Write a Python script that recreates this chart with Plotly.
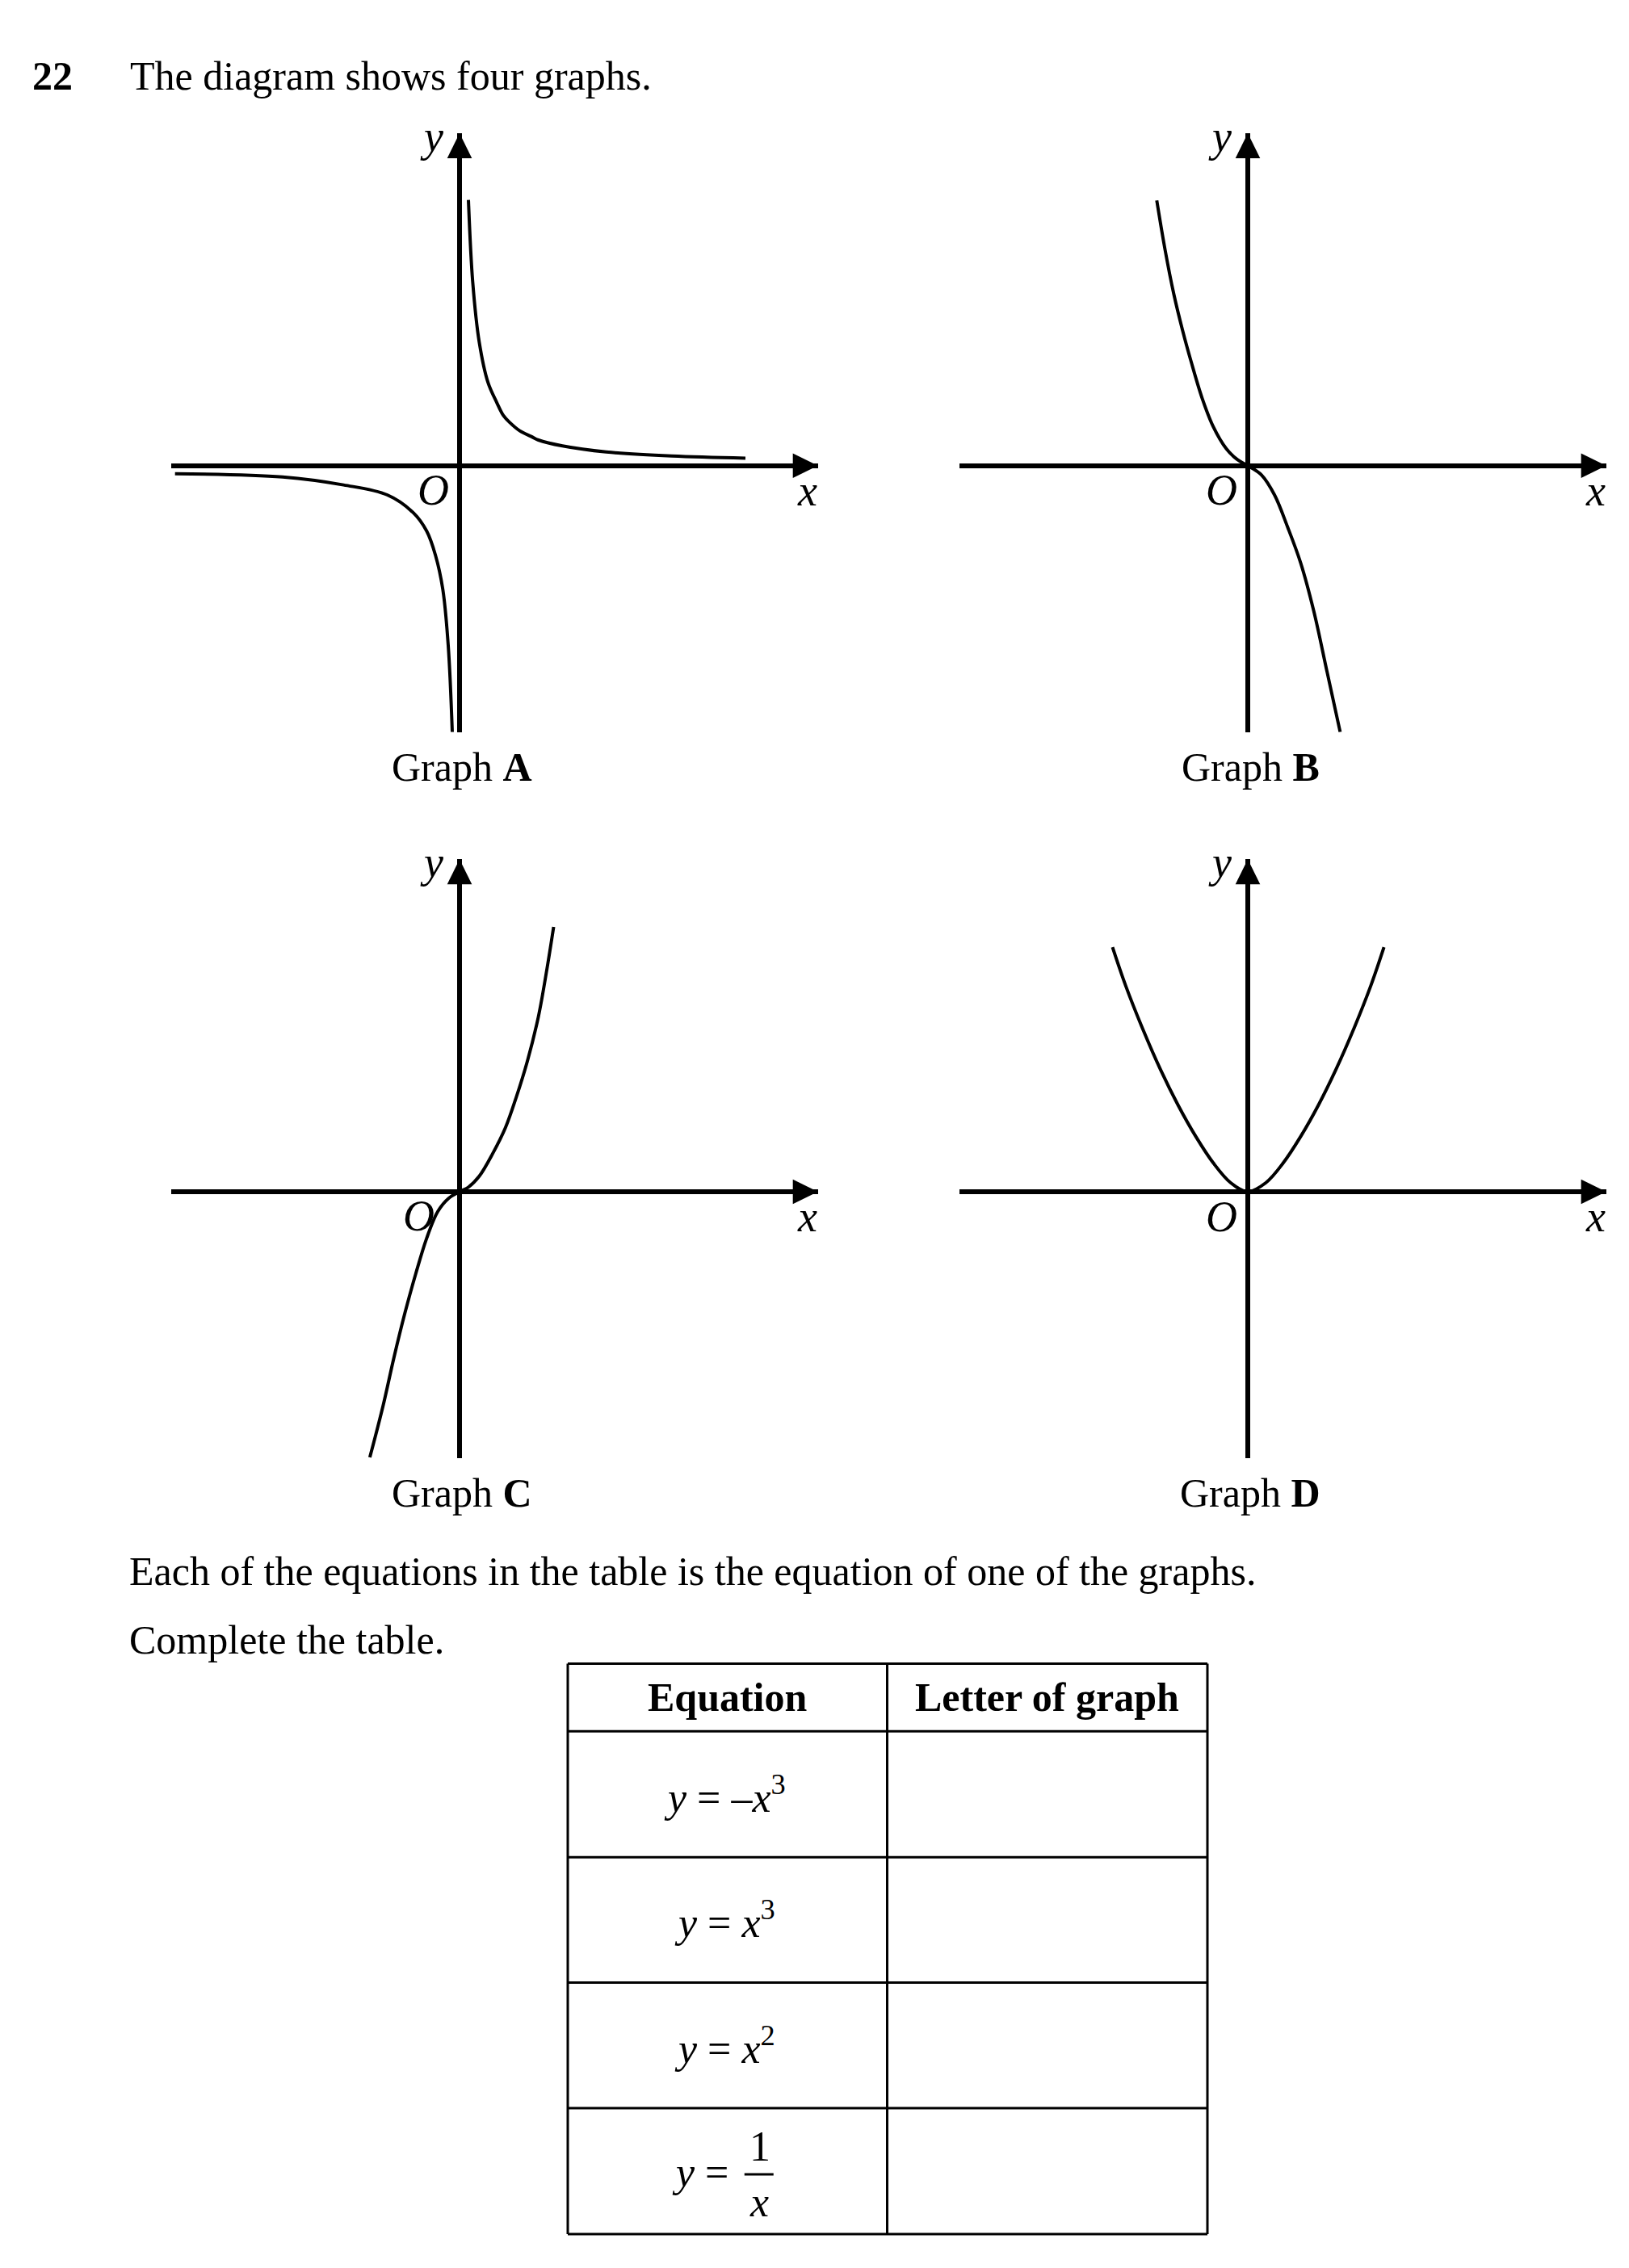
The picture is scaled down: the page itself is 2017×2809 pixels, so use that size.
import plotly.graph_objects as go

# ---------------- text content ----------------
question_number = "22"
intro_text = "The diagram shows four graphs."
graph_letters = ["A", "B", "C", "D"]
instruction_lines = [
    "Each of the equations in the table is the equation of one of the graphs.",
    "Complete the table.",
]
table_headers = ["Equation", "Letter of graph"]
equation_rows = [
    "<i>y</i> = –<i>x</i><sup>3</sup>",
    "<i>y</i> = <i>x</i><sup>3</sup>",
    "<i>y</i> = <i>x</i><sup>2</sup>",
    None,  # drawn as a stacked fraction
]
fraction_lhs = "<i>y</i> ="
fraction_num = "1"
fraction_den = "<i>x</i>"
letter_answers = ["", "", "", ""]

# ---------------- curve samples (units: px from O) ----
A_right_x = [11, 16.3, 24.4, 35.2, 46.1, 54.3, 62.3, 74.3, 89.4, 97.7, 127.4, 181.6, 262.9, 354]
A_right_y = [329, 227.5, 152.8, 103, 78.1, 62, 53.3, 43.3, 35.8, 31.7, 24.4, 16.9, 11.9, 9.3]
A_left_x = [-352.3, -219, -143.6, -89.4, -56.9, -40.7, -29.8, -20.7, -14, -9]
A_left_y = [-10, -14, -23.9, -36.3, -58.7, -81.1, -111, -153.3, -223, -330]

B_x = [-112.7, -102.4, -91.6, -80.8, -69.9, -56.4, -42.8, -26.6, -13, 0, 16.8, 33.1, 49.3, 65.6, 81.8, 98.1, 114.4]
B_y = [328.4, 267.2, 212.4, 167.7, 127.9, 83.1, 48.3, 20.9, 7.5, 0, -11.4, -36.3, -76.1, -120.9, -180.6, -255.2, -329.9]

C_x = [-111.1, -94.9, -81.3, -67.8, -54.2, -40.7, -27.1, -13.6, 0, 10.8, 24.4, 40.7, 56.9, 70.5, 84, 97.6, 108.4, 116.5]
C_y = [-329.1, -266, -205.7, -150.8, -101.5, -57.6, -24.7, -8.2, 0, 5.5, 19.2, 46.6, 79.5, 117.9, 161.8, 216.7, 277, 328]

D_x = [-167.5, -151.2, -129.5, -107.9, -86.2, -64.5, -42.8, -21.1, 0, 22.2, 43.9, 65.6, 87.3, 108.9, 130.6, 152.3, 168.6]
D_y = [302.8, 255.1, 200.2, 150.8, 107, 68.6, 35.7, 11, 0, 11, 35.7, 68.6, 107, 150.8, 200.2, 255.1, 302.8]

curves = {
    "A": [(A_right_x, A_right_y), (A_left_x, A_left_y)],
    "B": [(B_x, B_y)],
    "C": [(C_x, C_y)],
    "D": [(D_x, D_y)],
}

# ---------------- layout geometry ----------------
W, H = 2017, 2809
FONT = "Liberation Serif, Times New Roman, serif"
TEXT_SIZE = 50
LABEL_SIZE = 54


def px(x):
    return x / W


def py(y):
    return 1 - y / H


origins = {"A": (569, 576.7), "B": (1545, 576.7), "C": (569, 1476), "D": (1545, 1476)}
X_LEFT, X_TIP = -356.7, 443.7
Y_BOTTOM, Y_TIP = -330.0, 411.7
ARROW_LEN, ARROW_HALF = 31, 15.3
AXIS_W, CURVE_W = 6, 4
O_OFFSET = {"A": (-33, -30), "B": (-33, -30), "C": (-51, -30), "D": (-33, -31)}

fig = go.Figure()
shapes = []
annotations = []

for i, g in enumerate(graph_letters):
    n = i + 1
    xa = "x" if n == 1 else f"x{n}"
    ya = "y" if n == 1 else f"y{n}"
    ox, oy = origins[g]
    xdom = [px(ox + X_LEFT), px(ox + X_TIP)]
    ydom = [py(oy - Y_BOTTOM), py(oy - Y_TIP)]
    axis_common = dict(showgrid=False, showticklabels=False, ticks="", showline=False,
                       zeroline=True, zerolinecolor="black", zerolinewidth=AXIS_W,
                       fixedrange=True)
    fig.update_layout(**{
        ("xaxis" if n == 1 else f"xaxis{n}"): dict(domain=xdom, range=[X_LEFT, X_TIP], anchor=ya, **axis_common),
        ("yaxis" if n == 1 else f"yaxis{n}"): dict(domain=ydom, range=[Y_BOTTOM, Y_TIP], anchor=xa, **axis_common),
    })
    for cx, cy in curves[g]:
        fig.add_trace(go.Scatter(x=cx, y=cy, xaxis=xa, yaxis=ya, mode="lines",
                                 line=dict(color="black", width=CURVE_W, shape="spline", smoothing=1.0),
                                 hoverinfo="skip", showlegend=False))
    # arrow heads
    shapes.append(dict(type="path", xref=xa, yref=ya, fillcolor="black", line=dict(width=0),
                       path=f"M {X_TIP - ARROW_LEN},{-ARROW_HALF} L {X_TIP},0 L {X_TIP - ARROW_LEN},{ARROW_HALF} Z"))
    shapes.append(dict(type="path", xref=xa, yref=ya, fillcolor="black", line=dict(width=0),
                       path=f"M {-ARROW_HALF},{Y_TIP - ARROW_LEN} L 0,{Y_TIP} L {ARROW_HALF},{Y_TIP - ARROW_LEN} Z"))
    # axis labels
    lab = dict(xref=xa, yref=ya, showarrow=False, xanchor="center", yanchor="middle",
               font=dict(family=FONT, size=LABEL_SIZE, color="black", style="italic"))
    annotations.append(dict(lab, x=-35, y=408, text="y"))
    annotations.append(dict(lab, x=430, y=-31, text="x"))
    annotations.append(dict(lab, x=O_OFFSET[g][0], y=O_OFFSET[g][1], text="O"))
    # graph caption
    annotations.append(dict(xref="paper", yref="paper", x=px(ox + 3), y=py(oy + 373.3),
                            xanchor="center", yanchor="middle", showarrow=False,
                            text=f"Graph <b>{g}</b>", font=dict(family=FONT, size=TEXT_SIZE, color="black")))

# ---------------- page text ----------------
txt = dict(xref="paper", yref="paper", showarrow=False, xanchor="left", yanchor="middle",
           font=dict(family=FONT, size=TEXT_SIZE, color="black"))
annotations.append(dict(txt, x=px(38), y=py(94), text=f"<b>{question_number}</b>"))
annotations.append(dict(txt, x=px(159), y=py(94), text=intro_text))
annotations.append(dict(txt, x=px(158), y=py(1945.5), text=instruction_lines[0]))
annotations.append(dict(txt, x=px(158), y=py(2030.5), text=instruction_lines[1]))

# ---------------- table ----------------
col_edges = [703, 1098.5, 1495]
row_edges = [2060.4, 2144.2, 2300.3, 2455.4, 2611, 2767]
TBL_W = 3
for yv in row_edges:
    shapes.append(dict(type="line", xref="paper", yref="paper", x0=px(col_edges[0]), x1=px(col_edges[-1]),
                       y0=py(yv), y1=py(yv), line=dict(color="black", width=TBL_W)))
for xv in col_edges:
    shapes.append(dict(type="line", xref="paper", yref="paper", x0=px(xv), x1=px(xv),
                       y0=py(row_edges[0]), y1=py(row_edges[-1]), line=dict(color="black", width=TBL_W)))

cell = dict(xref="paper", yref="paper", showarrow=False, xanchor="center", yanchor="middle",
            font=dict(family=FONT, size=TEXT_SIZE, color="black"))
for j, head in enumerate(table_headers):
    cxm = (col_edges[j] + col_edges[j + 1]) / 2
    annotations.append(dict(cell, x=px(cxm), y=py((row_edges[0] + row_edges[1]) / 2), text=f"<b>{head}</b>"))

eq_cx = (col_edges[0] + col_edges[1]) / 2
let_cx = (col_edges[1] + col_edges[2]) / 2
EQ_SIZE = 52
eq_font = dict(family=FONT, size=EQ_SIZE, color="black")
for r, eq in enumerate(equation_rows):
    cy = (row_edges[r + 1] + row_edges[r + 2]) / 2
    if eq is not None:
        annotations.append(dict(cell, x=px(eq_cx - 3), y=py(cy), text=eq, font=eq_font))
    else:
        annotations.append(dict(cell, x=px(eq_cx - 34), y=py(cy + 1), text=fraction_lhs, font=eq_font))
        annotations.append(dict(cell, x=px(eq_cx + 40), y=py(cy - 31), text=fraction_num, font=eq_font))
        annotations.append(dict(cell, x=px(eq_cx + 39), y=py(cy + 38), text=fraction_den, font=eq_font))
        shapes.append(dict(type="line", xref="paper", yref="paper", x0=px(eq_cx + 21), x1=px(eq_cx + 57),
                           y0=py(cy + 4), y1=py(cy + 4), line=dict(color="black", width=3)))
    if letter_answers[r]:
        annotations.append(dict(cell, x=px(let_cx), y=py(cy), text=letter_answers[r]))

fig.update_layout(width=W, height=H, margin=dict(l=0, r=0, t=0, b=0, pad=0),
                  paper_bgcolor="white", plot_bgcolor="white", showlegend=False,
                  hovermode=False, shapes=shapes, annotations=annotations)

fig.write_html("out.html", config={"displayModeBar": False},
               post_script="document.body.style.margin='0';")
